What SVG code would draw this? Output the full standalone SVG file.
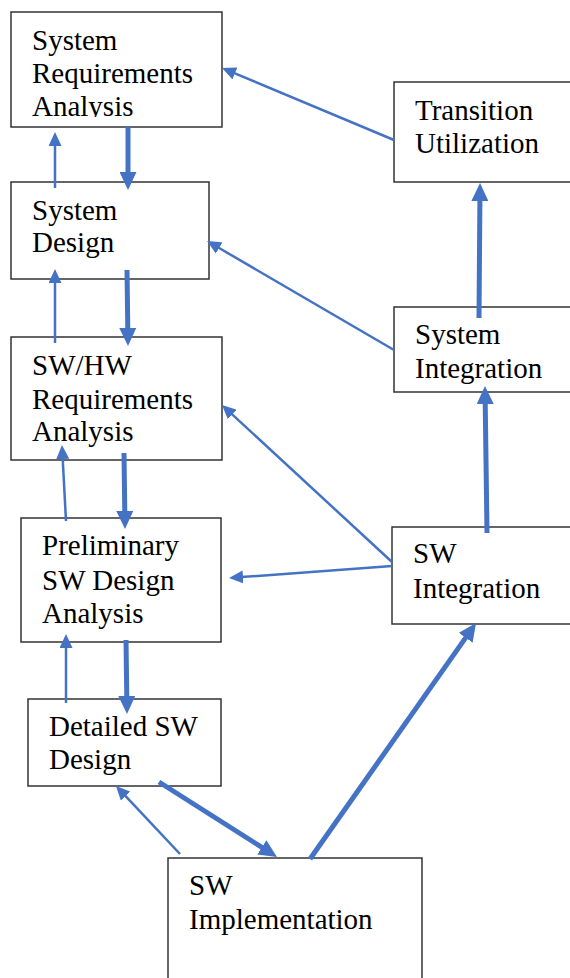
<svg xmlns="http://www.w3.org/2000/svg" width="570" height="978" viewBox="0 0 570 978">
<style>
.box{fill:#fff;stroke:#333;stroke-width:1.5}
.thin{stroke:#4472C4;stroke-width:2.5;fill:none;marker-end:url(#ah)}
.thick{stroke:#4472C4;stroke-width:5;fill:none;marker-end:url(#AH)}
</style>
<defs>
<marker id="ah" markerUnits="userSpaceOnUse" markerWidth="14" markerHeight="13" refX="2" refY="6.5" orient="auto"><path d="M0,0 L14,6.5 L0,13 z" fill="#4472C4"/></marker>
<marker id="AH" markerUnits="userSpaceOnUse" markerWidth="18" markerHeight="17" refX="2" refY="8.5" orient="auto"><path d="M0,0 L18,8.5 L0,17 z" fill="#4472C4"/></marker>
<clipPath id="c1"><rect x="0" y="0" width="570" height="117"/></clipPath>
<clipPath id="c2"><rect x="0" y="300" width="570" height="84"/></clipPath>
</defs>
<g font-family="Liberation Serif, Times New Roman, DejaVu Serif, serif" font-size="29" fill="#000">
<g id="sysreq"><rect class="box" x="11" y="12" width="211" height="115"/><g clip-path="url(#c1)"><text x="32" y="50">System</text><text x="32" y="83">Requirements</text><text x="32" y="116">Analysis</text></g></g>
<g id="transition"><rect class="box" x="394" y="82" width="178" height="100"/><text x="415" y="120">Transition</text><text x="415" y="153">Utilization</text></g>
<g id="sysdesign"><rect class="box" x="11" y="182" width="198" height="97"/><text x="32" y="220">System</text><text x="32" y="252">Design</text></g>
<g id="sysint"><rect class="box" x="394" y="307" width="178" height="85"/><g clip-path="url(#c2)"><text x="415" y="344">System</text><text x="415" y="378">Integration</text></g></g>
<g id="swhw"><rect class="box" x="11" y="337" width="211" height="123"/><text x="32" y="375">SW/HW</text><text x="32" y="409">Requirements</text><text x="32" y="441">Analysis</text></g>
<g id="prelim"><rect class="box" x="21" y="518" width="200" height="124"/><text x="42" y="555">Preliminary</text><text x="42" y="590">SW Design</text><text x="42" y="623">Analysis</text></g>
<g id="swint"><rect class="box" x="392" y="527" width="180" height="97"/><text x="413" y="563">SW</text><text x="413" y="598">Integration</text></g>
<g id="detailed"><rect class="box" x="28" y="699" width="193" height="87"/><text x="49" y="736">Detailed SW</text><text x="49" y="769">Design</text></g>
<g id="swimpl"><rect class="box" x="168" y="858" width="254" height="125"/><text x="189" y="895">SW</text><text x="189" y="929">Implementation</text></g>
</g>
<g id="connectors">
<line class="thin" x1="394" y1="140" x2="233.1" y2="72.6"/>
<line class="thick" x1="128" y1="127" x2="128" y2="174"/>
<line class="thin" x1="55" y1="188" x2="55" y2="144"/>
<line class="thin" x1="394" y1="350" x2="217.4" y2="247"/>
<line class="thick" x1="127" y1="270" x2="127.8" y2="330"/>
<line class="thin" x1="55" y1="343" x2="55" y2="281"/>
<line class="thick" x1="479" y1="318" x2="479.9" y2="199"/>
<line class="thick" x1="487" y1="533" x2="485.2" y2="402"/>
<line class="thin" x1="392" y1="562" x2="230.8" y2="413.1"/>
<line class="thin" x1="392" y1="566" x2="241" y2="577.1"/>
<line class="thick" x1="124" y1="453" x2="124.8" y2="513"/>
<line class="thin" x1="66" y1="521" x2="62.6" y2="457"/>
<line class="thick" x1="126" y1="640" x2="126.8" y2="698"/>
<line class="thin" x1="66" y1="703" x2="66" y2="646"/>
<line class="thick" x1="159" y1="782" x2="263.5" y2="848.4"/>
<line class="thin" x1="180" y1="854" x2="124.2" y2="794.7"/>
<line class="thick" x1="310" y1="859" x2="466.8" y2="636.1"/>
</g>
</svg>
